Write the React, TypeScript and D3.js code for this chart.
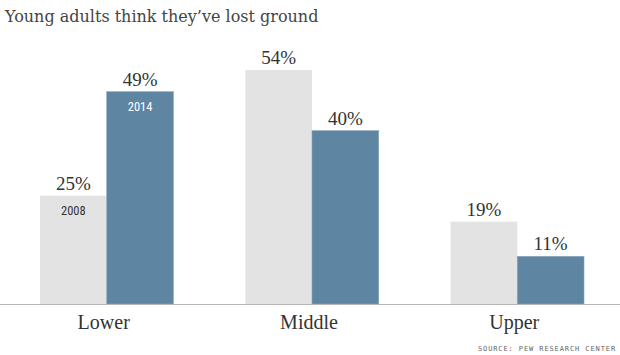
import React from "react";
import * as d3 from "d3";

const categories = ["Lower", "Middle", "Upper"];
const series = ["2008", "2014"];
const values2008 = [25, 54, 19];
const values2014 = [49, 40, 11];
const title = "Young adults think they\u2019ve lost ground";
const source = "SOURCE: PEW RESEARCH CENTER";

const W = 620;
const H = 355;
const baseY = 304;
const colors = ["#e3e3e3", "#5e86a3"];

export default function App() {
  const x0 = d3.scaleBand<string>().domain(categories).range([40, 584]).paddingInner(0.35).paddingOuter(0);
  const x1 = d3.scaleBand<string>().domain(series).range([0, x0.bandwidth()]).padding(0);
  const y = d3.scaleLinear().domain([0, 54]).range([baseY, 70]);

  const serif = "'Liberation Serif', 'Times New Roman', serif";
  return (
    <svg width={W} height={H} style={{ position: "absolute", left: 0, top: 0, background: "#fff" }}>
      <text x={5} y={22} fontFamily="'DejaVu Serif', Georgia, serif" fontSize={16} fill="#444">{title}</text>
      {categories.map((c, i) => {
        const vals = [values2008[i], values2014[i]];
        return (
          <g key={c} transform={`translate(${x0(c)},0)`}>
            {series.map((s, j) => {
              const v = vals[j];
              const bx = x1(s)!;
              const bw = x1.bandwidth();
              return (
                <g key={s}>
                  <rect x={bx} y={y(v)} width={bw} height={baseY - y(v)} fill={colors[j]}
                    stroke={j === 1 ? "#8aa6bb" : "none"} strokeWidth={0.6} />
                  <text x={bx + bw / 2} y={y(v) - 6} textAnchor="middle" fontFamily={serif}
                    fontSize={19} fill="#333">{v}%</text>
                  {i === 0 && (
                    <text x={bx + bw / 2} y={y(v) + 19} textAnchor="middle"
                      fontFamily="'Liberation Sans Narrow', 'Roboto Condensed', 'Liberation Sans', sans-serif"
                      fontSize={12.5} fill={j === 1 ? "#fff" : "#333"}>{s}</text>
                  )}
                </g>
              );
            })}
            <text x={x0.bandwidth() / 2 - 3} y={329} textAnchor="middle" fontFamily={serif}
              fontSize={20} fill="#333">{c}</text>
          </g>
        );
      })}
      <line x1={0} x2={W} y1={baseY + 0.5} y2={baseY + 0.5} stroke="#b5b5b5" strokeWidth={1} />
      <text x={616} y={351} textAnchor="end" fontFamily="'DejaVu Sans Mono', monospace" fontSize={7}
        letterSpacing={0.9} fill="#666">{source}</text>
    </svg>
  );
}
